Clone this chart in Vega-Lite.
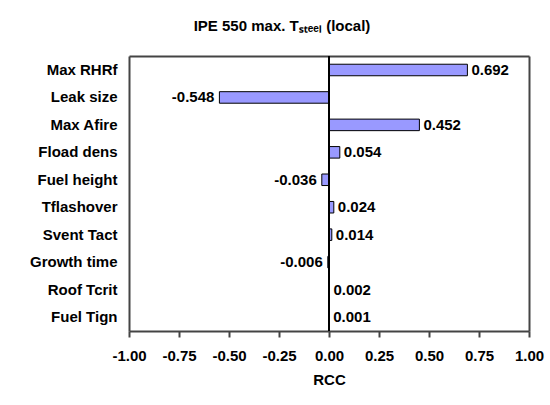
{
  "$schema": "https://vega.github.io/schema/vega-lite/v6.json",
  "width": 400,
  "height": 275,
  "autosize": {"type": "none"},
  "padding": {"left": 129, "top": 56, "right": 21, "bottom": 74},
  "background": "white",
  "title": {
    "text": "IPE 550 max. Tₛₜₑₑₗ (local)",
    "font": "Liberation Sans",
    "fontSize": 15,
    "fontWeight": "bold",
    "color": "black",
    "anchor": "middle",
    "dx": -47,
    "offset": 21
  },
  "data": {
    "values": [
      {"param": "Max RHRf", "rcc": 0.692},
      {"param": "Leak size", "rcc": -0.548},
      {"param": "Max Afire", "rcc": 0.452},
      {"param": "Fload dens", "rcc": 0.054},
      {"param": "Fuel height", "rcc": -0.036},
      {"param": "Tflashover", "rcc": 0.024},
      {"param": "Svent Tact", "rcc": 0.014},
      {"param": "Growth time", "rcc": -0.006},
      {"param": "Roof Tcrit", "rcc": 0.002},
      {"param": "Fuel Tign", "rcc": 0.001}
    ]
  },
  "resolve": {"axis": {"x": "independent", "y": "independent"}},
  "layer": [
    {
      "mark": {"type": "bar", "fill": "#9999ff", "stroke": "black", "strokeWidth": 1},
      "encoding": {
        "y": {
          "field": "param",
          "type": "nominal",
          "sort": null,
          "title": null,
          "scale": {"paddingInner": 0.58, "paddingOuter": 0.3},
          "axis": {
            "ticks": false,
            "domain": true,
            "domainColor": "#444",
            "domainWidth": 2,
            "labelFont": "Liberation Sans",
            "labelFontSize": 15,
            "labelFontWeight": "bold",
            "labelColor": "black",
            "labelPadding": 12
          }
        },
        "x": {
          "field": "rcc",
          "type": "quantitative",
          "title": "RCC",
          "scale": {"domain": [-1, 1], "nice": false, "zero": false},
          "axis": {
            "values": [-1, -0.75, -0.5, -0.25, 0, 0.25, 0.5, 0.75, 1],
            "format": ".2f",
            "labelOverlap": false,
            "labelFlush": false,
            "grid": false,
            "domainColor": "#444",
            "domainWidth": 2,
            "tickColor": "#444",
            "tickWidth": 2,
            "tickSize": 6,
            "labelFont": "Liberation Sans",
            "labelFontSize": 15,
            "labelFontWeight": "bold",
            "labelColor": "black",
            "labelPadding": 11,
            "titleFont": "Liberation Sans",
            "titleFontSize": 15,
            "titleFontWeight": "bold",
            "titleColor": "black",
            "titlePadding": 9
          }
        }
      }
    },
    {
      "transform": [{"filter": "datum.rcc >= 0"}],
      "mark": {"type": "text", "align": "left", "baseline": "middle", "dx": 4, "font": "Liberation Sans", "fontSize": 15, "fontWeight": "bold", "color": "black"},
      "encoding": {
        "y": {"field": "param", "type": "nominal", "sort": null, "axis": null},
        "x": {"field": "rcc", "type": "quantitative", "axis": null},
        "text": {"field": "rcc", "type": "quantitative", "format": ".3f"}
      }
    },
    {
      "transform": [{"filter": "datum.rcc < 0"}],
      "mark": {"type": "text", "align": "right", "baseline": "middle", "dx": -5, "font": "Liberation Sans", "fontSize": 15, "fontWeight": "bold", "color": "black"},
      "encoding": {
        "y": {
          "field": "param",
          "type": "nominal",
          "sort": null,
          "title": null,
          "axis": {"orient": "right", "labels": false, "ticks": false, "domain": true, "domainColor": "#444", "domainWidth": 2}
        },
        "x": {"field": "rcc", "type": "quantitative", "axis": null},
        "text": {"field": "rcc", "type": "quantitative", "format": ".3f"}
      }
    },
    {
      "mark": {"type": "rule", "color": "black", "strokeWidth": 2},
      "encoding": {
        "x": {
          "datum": 0,
          "type": "quantitative",
          "title": null,
          "axis": {"orient": "top", "labels": false, "ticks": false, "grid": false, "domain": true, "domainColor": "#444", "domainWidth": 2}
        }
      }
    }
  ],
  "config": {
    "view": {"stroke": null},
    "locale": {"number": {"decimal": ".", "thousands": ",", "grouping": [3], "currency": ["$", ""], "minus": "-"}}
  }
}
